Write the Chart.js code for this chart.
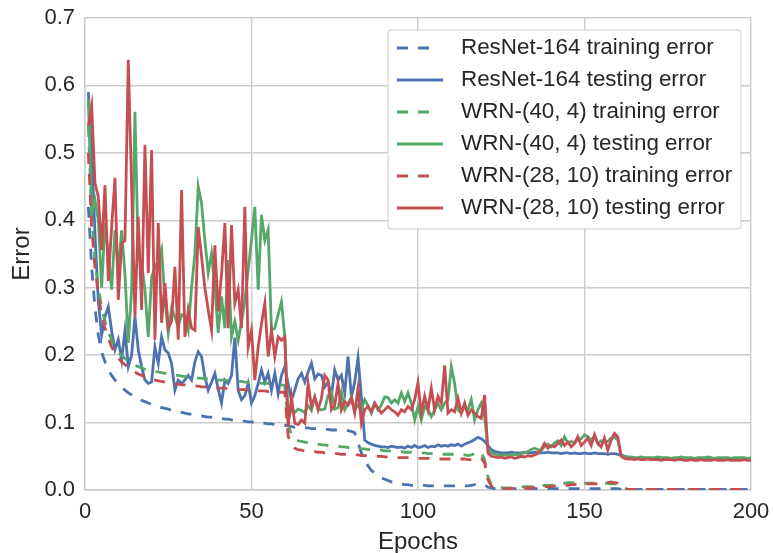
<!DOCTYPE html>
<html><head><meta charset="utf-8">
<script src="https://cdn.jsdelivr.net/npm/chart.js@4.4.1/dist/chart.umd.min.js"></script>
<style>html,body{margin:0;padding:0;background:#fff;}canvas{display:block;}</style>
</head><body>
<canvas id="c" width="773" height="553"></canvas>
<script>
// ---- Data ----
const epochs = Array.from({length: 200}, (_, i) => i + 1);
const xTicks = [0, 50, 100, 150, 200];
const yTicks = [0.0, 0.1, 0.2, 0.3, 0.4, 0.5, 0.6, 0.7];
const seriesLabels = [
  'ResNet-164 training error', 'ResNet-164 testing error',
  'WRN-(40, 4) training error', 'WRN-(40, 4) testing error',
  'WRN-(28, 10) training error', 'WRN-(28, 10) testing error'
];

const resnetTrain = [
  0.42,0.33,0.27,0.23,0.205,0.19,0.178,0.17,0.163,0.158,
  0.153,0.148,0.144,0.141,0.138,0.135,0.133,0.131,0.129,0.127,
  0.125,0.124,0.122,0.121,0.12,0.118,0.117,0.116,0.115,0.114,
  0.113,0.112,0.111,0.11,0.11,0.109,0.108,0.108,0.107,0.106,
  0.106,0.105,0.105,0.104,0.103,0.103,0.102,0.102,0.101,0.101,
  0.1,0.1,0.099,0.099,0.098,0.098,0.097,0.097,0.096,0.096,
  0.095,0.094,0.093,0.093,0.092,0.092,0.092,0.091,0.091,0.091,
  0.09,0.09,0.09,0.089,0.089,0.089,0.088,0.088,0.088,0.087,
  0.085,0.07,0.055,0.045,0.036,0.029,0.025,0.021,0.018,0.016,
  0.014,0.012,0.011,0.01,0.009,0.008,0.008,0.007,0.007,0.007,
  0.007,0.007,0.006,0.006,0.006,0.006,0.006,0.006,0.006,0.006,
  0.006,0.006,0.006,0.006,0.006,0.007,0.008,0.009,0.009,0.008,
  0.004,0.003,0.002,0.002,0.002,0.002,0.002,0.002,0.002,0.002,
  0.002,0.002,0.002,0.002,0.002,0.002,0.002,0.002,0.002,0.002,
  0.002,0.002,0.002,0.002,0.002,0.002,0.002,0.002,0.002,0.002,
  0.002,0.002,0.002,0.002,0.002,0.002,0.002,0.002,0.002,0.002,
  0.001,0.001,0.001,0.001,0.001,0.001,0.001,0.001,0.001,0.001,
  0.001,0.001,0.001,0.001,0.001,0.001,0.001,0.001,0.001,0.001,
  0.001,0.001,0.001,0.001,0.001,0.001,0.001,0.001,0.001,0.001,
  0.001,0.001,0.001,0.001,0.001,0.001,0.001,0.001,0.001,0.001
];
const resnetTest = [
  0.59,0.50,0.38,0.28,0.23,0.257,0.272,0.236,0.208,0.223,
  0.193,0.236,0.183,0.20,0.257,0.208,0.183,0.163,0.158,0.16,
  0.212,0.188,0.227,0.208,0.203,0.188,0.148,0.163,0.158,0.163,
  0.17,0.163,0.19,0.205,0.198,0.168,0.148,0.16,0.173,0.15,
  0.129,0.163,0.158,0.17,0.226,0.148,0.134,0.14,0.158,0.129,
  0.14,0.158,0.178,0.16,0.173,0.148,0.173,0.143,0.17,0.183,
  0.158,0.133,0.148,0.165,0.173,0.16,0.175,0.188,0.165,0.172,
  0.17,0.153,0.16,0.14,0.178,0.163,0.17,0.144,0.198,0.138,
  0.16,0.196,0.138,0.074,0.07,0.068,0.066,0.065,0.064,0.064,
  0.063,0.065,0.064,0.063,0.064,0.062,0.065,0.063,0.066,0.063,
  0.064,0.066,0.063,0.065,0.064,0.067,0.065,0.066,0.065,0.067,
  0.066,0.068,0.065,0.068,0.07,0.072,0.075,0.078,0.076,0.072,
  0.066,0.06,0.057,0.056,0.055,0.055,0.055,0.056,0.055,0.055,
  0.055,0.056,0.055,0.055,0.056,0.055,0.055,0.055,0.056,0.055,
  0.055,0.055,0.054,0.055,0.055,0.054,0.055,0.054,0.054,0.055,
  0.054,0.054,0.055,0.054,0.054,0.054,0.053,0.054,0.054,0.053,
  0.052,0.05,0.048,0.047,0.047,0.047,0.047,0.047,0.047,0.047,
  0.047,0.047,0.046,0.047,0.047,0.047,0.047,0.046,0.047,0.047,
  0.047,0.046,0.047,0.047,0.047,0.046,0.047,0.047,0.046,0.047,
  0.047,0.046,0.047,0.046,0.047,0.047,0.046,0.047,0.046,0.047
];
const wrn404Train = [
  0.54,0.41,0.34,0.30,0.27,0.25,0.235,0.222,0.212,0.205,
  0.2,0.195,0.191,0.188,0.185,0.183,0.181,0.179,0.178,0.177,
  0.176,0.175,0.174,0.173,0.172,0.171,0.17,0.17,0.169,0.168,
  0.168,0.167,0.167,0.166,0.166,0.165,0.165,0.164,0.164,0.163,
  0.163,0.163,0.162,0.162,0.161,0.161,0.161,0.16,0.16,0.16,
  0.159,0.159,0.158,0.158,0.158,0.157,0.157,0.156,0.156,0.155,
  0.1,0.08,0.075,0.073,0.072,0.071,0.07,0.07,0.069,0.068,
  0.067,0.067,0.066,0.066,0.065,0.065,0.064,0.064,0.063,0.063,
  0.062,0.062,0.061,0.061,0.06,0.06,0.06,0.059,0.059,0.058,
  0.058,0.058,0.057,0.057,0.057,0.056,0.056,0.056,0.055,0.055,
  0.055,0.055,0.054,0.054,0.054,0.054,0.053,0.053,0.053,0.053,
  0.053,0.053,0.052,0.052,0.051,0.052,0.054,0.056,0.056,0.045,
  0.02,0.008,0.004,0.003,0.003,0.003,0.003,0.003,0.004,0.004,
  0.004,0.005,0.005,0.005,0.005,0.006,0.006,0.007,0.007,0.007,
  0.008,0.009,0.009,0.01,0.011,0.011,0.011,0.01,0.01,0.01,
  0.01,0.01,0.01,0.01,0.01,0.01,0.01,0.009,0.009,0.008,
  0.004,0.002,0.001,0.001,0.001,0.001,0.001,0.001,0.001,0.001,
  0.001,0.001,0.001,0.001,0.001,0.001,0.001,0.001,0.001,0.001,
  0.001,0.001,0.001,0.001,0.001,0.001,0.001,0.001,0.001,0.001,
  0.001,0.001,0.001,0.001,0.001,0.001,0.001,0.001,0.001,0.001
];
const wrn404Test = [
  0.58,0.41,0.43,0.40,0.30,0.396,0.35,0.297,0.385,0.326,
  0.385,0.32,0.218,0.297,0.561,0.346,0.336,0.297,0.227,0.316,
  0.33,0.34,0.357,0.282,0.233,0.27,0.257,0.242,0.26,0.257,
  0.237,0.3,0.35,0.45,0.425,0.37,0.322,0.351,0.30,0.233,
  0.287,0.24,0.341,0.227,0.25,0.222,0.25,0.28,0.326,0.371,
  0.42,0.297,0.408,0.37,0.386,0.237,0.24,0.26,0.279,0.227,
  0.105,0.119,0.115,0.12,0.118,0.115,0.125,0.118,0.138,0.12,
  0.119,0.12,0.14,0.146,0.12,0.122,0.145,0.119,0.128,0.138,
  0.119,0.126,0.119,0.134,0.125,0.114,0.128,0.119,0.126,0.138,
  0.137,0.129,0.134,0.129,0.144,0.131,0.144,0.129,0.104,0.124,
  0.104,0.124,0.119,0.109,0.119,0.129,0.119,0.129,0.134,0.183,
  0.158,0.119,0.114,0.124,0.119,0.134,0.104,0.119,0.129,0.109,
  0.062,0.055,0.053,0.052,0.052,0.052,0.051,0.052,0.053,0.052,
  0.054,0.055,0.057,0.06,0.062,0.06,0.058,0.065,0.068,0.064,
  0.07,0.073,0.066,0.079,0.07,0.072,0.07,0.075,0.076,0.082,
  0.079,0.074,0.079,0.069,0.073,0.072,0.072,0.077,0.079,0.074,
  0.052,0.05,0.049,0.049,0.048,0.048,0.049,0.048,0.048,0.048,
  0.048,0.049,0.048,0.048,0.048,0.047,0.048,0.048,0.049,0.048,
  0.048,0.048,0.047,0.048,0.048,0.048,0.049,0.048,0.047,0.048,
  0.048,0.048,0.048,0.047,0.048,0.048,0.048,0.048,0.047,0.048
];
const wrn2810Train = [
  0.50,0.39,0.33,0.29,0.26,0.24,0.225,0.212,0.203,0.196,
  0.19,0.186,0.182,0.178,0.175,0.172,0.17,0.168,0.166,0.164,
  0.163,0.162,0.161,0.16,0.159,0.158,0.157,0.157,0.156,0.156,
  0.155,0.155,0.154,0.154,0.153,0.153,0.153,0.152,0.152,0.151,
  0.151,0.151,0.15,0.15,0.15,0.149,0.149,0.149,0.148,0.148,
  0.148,0.147,0.147,0.147,0.146,0.146,0.146,0.145,0.145,0.145,
  0.08,0.066,0.062,0.06,0.059,0.058,0.058,0.057,0.057,0.056,
  0.056,0.055,0.055,0.055,0.054,0.054,0.053,0.053,0.053,0.052,
  0.052,0.052,0.051,0.051,0.051,0.05,0.05,0.05,0.05,0.049,
  0.049,0.049,0.049,0.048,0.048,0.048,0.048,0.048,0.047,0.047,
  0.047,0.047,0.047,0.047,0.047,0.046,0.046,0.046,0.046,0.046,
  0.046,0.046,0.046,0.046,0.045,0.045,0.046,0.046,0.047,0.04,
  0.015,0.006,0.004,0.003,0.002,0.002,0.002,0.002,0.002,0.002,
  0.003,0.003,0.003,0.003,0.004,0.004,0.004,0.005,0.005,0.005,
  0.006,0.007,0.007,0.007,0.007,0.008,0.008,0.009,0.009,0.009,
  0.009,0.009,0.009,0.009,0.009,0.01,0.011,0.012,0.011,0.01,
  0.004,0.002,0.001,0.001,0.001,0.001,0.001,0.001,0.001,0.001,
  0.001,0.001,0.001,0.001,0.001,0.001,0.001,0.001,0.001,0.001,
  0.001,0.001,0.001,0.001,0.001,0.001,0.001,0.001,0.001,0.001,
  0.001,0.001,0.001,0.001,0.001,0.001,0.001,0.001,0.001,0.001
];
const wrn2810Test = [
  0.54,0.57,0.455,0.435,0.356,0.452,0.31,0.39,0.463,0.282,
  0.366,0.37,0.638,0.45,0.257,0.405,0.267,0.512,0.322,0.504,
  0.223,0.396,0.248,0.307,0.24,0.25,0.331,0.223,0.445,0.227,
  0.267,0.24,0.237,0.39,0.346,0.30,0.267,0.237,0.363,0.265,
  0.32,0.396,0.24,0.393,0.277,0.297,0.24,0.42,0.212,0.237,
  0.163,0.212,0.247,0.277,0.198,0.237,0.198,0.227,0.222,0.227,
  0.094,0.138,0.099,0.097,0.104,0.099,0.158,0.124,0.138,0.119,
  0.136,0.17,0.163,0.119,0.126,0.158,0.119,0.131,0.126,0.136,
  0.114,0.151,0.099,0.119,0.124,0.116,0.129,0.121,0.114,0.119,
  0.124,0.119,0.116,0.111,0.119,0.116,0.124,0.119,0.134,0.159,
  0.114,0.139,0.119,0.151,0.119,0.139,0.129,0.185,0.114,0.119,
  0.116,0.136,0.114,0.129,0.111,0.119,0.114,0.109,0.106,0.141,
  0.055,0.05,0.049,0.048,0.049,0.047,0.048,0.049,0.047,0.048,
  0.05,0.049,0.051,0.05,0.052,0.054,0.06,0.069,0.062,0.066,
  0.064,0.069,0.074,0.066,0.071,0.064,0.069,0.079,0.066,0.071,
  0.077,0.066,0.082,0.069,0.064,0.077,0.059,0.074,0.084,0.079,
  0.05,0.047,0.046,0.046,0.045,0.046,0.045,0.045,0.046,0.045,
  0.045,0.045,0.044,0.045,0.045,0.045,0.044,0.045,0.045,0.044,
  0.044,0.045,0.044,0.044,0.045,0.044,0.044,0.044,0.045,0.044,
  0.044,0.044,0.045,0.044,0.044,0.044,0.044,0.045,0.044,0.044
];

// ---- Styles ----
const BLUE = '#4C72B0', GREEN = '#55A868', RED = '#C44E52';
const TEXT = '#262626', GRID = '#cccccc';
const FONT = '"Liberation Sans", Arial, sans-serif';
const DASH = [11, 10];

const seriesValues = [resnetTrain, resnetTest, wrn404Train, wrn404Test, wrn2810Train, wrn2810Test];
const seriesColors = [BLUE, BLUE, GREEN, GREEN, RED, RED];
const seriesDashed = [true, false, true, false, true, false];

const datasets = seriesValues.map((vals, i) => ({
  label: seriesLabels[i],
  data: vals.map((v, j) => ({x: epochs[j], y: v})),
  borderColor: seriesColors[i],
  backgroundColor: seriesColors[i],
  borderWidth: 2.8,
  borderDash: seriesDashed[i] ? DASH : [],
  pointRadius: 0,
  fill: false,
  tension: 0,
  order: 6 - i
}));

const insideLegend = {
  id: 'insideLegend',
  afterDatasetsDraw(chart) {
    const ctx = chart.ctx;
    const ca = chart.chartArea;
    const bw = 353, bh = 199;
    const bx = ca.right - 10 - bw, by = ca.top + 12;
    ctx.save();
    ctx.beginPath();
    const r = 3;
    ctx.moveTo(bx + r, by);
    ctx.arcTo(bx + bw, by, bx + bw, by + bh, r);
    ctx.arcTo(bx + bw, by + bh, bx, by + bh, r);
    ctx.arcTo(bx, by + bh, bx, by, r);
    ctx.arcTo(bx, by, bx + bw, by, r);
    ctx.closePath();
    ctx.fillStyle = 'rgba(255,255,255,0.97)';
    ctx.fill();
    ctx.strokeStyle = GRID;
    ctx.lineWidth = 1;
    ctx.stroke();
    chart.data.datasets.forEach((ds, i) => {
      const cy = by + 18 + i * 32;
      ctx.strokeStyle = ds.borderColor;
      ctx.lineWidth = ds.borderWidth;
      ctx.setLineDash(ds.borderDash);
      ctx.beginPath();
      ctx.moveTo(bx + 9, cy);
      ctx.lineTo(bx + (ds.borderDash.length ? 51 : 55), cy);
      ctx.stroke();
      ctx.setLineDash([]);
      ctx.fillStyle = TEXT;
      ctx.font = '22.4px ' + FONT;
      ctx.textBaseline = 'middle';
      ctx.textAlign = 'left';
      ctx.fillText(ds.label, bx + 73, cy);
    });
    ctx.restore();
  }
};

function zeroPad(s) {
  s.paddingLeft = 0; s.paddingRight = 0; s.paddingTop = 0; s.paddingBottom = 0;
}

new Chart(document.getElementById('c'), {
  type: 'line',
  data: {datasets},
  plugins: [insideLegend],
  options: {
    responsive: false,
    devicePixelRatio: 1,
    animation: false,
    layout: {padding: {left: 0, top: 18, right: 22, bottom: 0}},
    plugins: {legend: {display: false}, tooltip: {enabled: false}},
    scales: {
      x: {
        type: 'linear', min: xTicks[0], max: xTicks[xTicks.length - 1],
        afterBuildTicks: s => { s.ticks = xTicks.map(v => ({value: v})); },
        afterFit: s => { s.height = 63; zeroPad(s); },
        grid: {color: GRID, lineWidth: 1.4, drawTicks: false},
        border: {color: GRID, width: 1.4},
        ticks: {color: TEXT, font: {family: FONT, size: 22}, padding: 9, maxRotation: 0},
        title: {display: true, text: 'Epochs', color: TEXT, font: {family: FONT, size: 24, lineHeight: 1}, padding: {top: 0, bottom: -1}}
      },
      y: {
        type: 'linear', min: yTicks[0], max: yTicks[yTicks.length - 1],
        afterBuildTicks: s => { s.ticks = yTicks.map(v => ({value: v})); },
        afterFit: s => { s.width = 85; zeroPad(s); },
        grid: {color: GRID, lineWidth: 1.4, drawTicks: false},
        border: {color: GRID, width: 1.4},
        ticks: {color: TEXT, font: {family: FONT, size: 22}, padding: 10, callback: v => Number(v).toFixed(1)},
        title: {display: true, text: 'Error', color: TEXT, font: {family: FONT, size: 24, lineHeight: 1}, padding: {top: 10, bottom: 0}}
      }
    }
  }
});
</script>
</body></html>
